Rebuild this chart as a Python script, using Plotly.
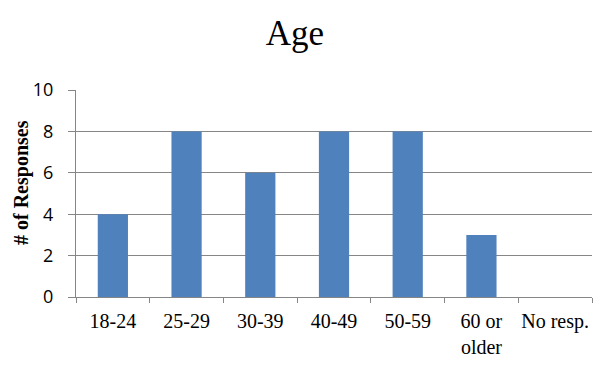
import plotly.graph_objects as go

categories = ["18-24", "25-29", "30-39", "40-49", "50-59", "60 or<br>older", "No resp."]
values = [4, 8, 6, 8, 8, 3, 0]
y_ticks = [0, 2, 4, 6, 8, 10]

# page body has an 8px margin; figure sized/positioned to compensate
OFF = 8
W, H = 598, 352
# plot area in screen pixels
PX0, PX1, PY0, PY1 = 76, 592, 90, 297
L, T = PX0 - OFF, PY0 - OFF
R, B = W - (PX1 - OFF), H - (PY1 - OFF)
pw, ph = PX1 - PX0, PY1 - PY0

fig = go.Figure()
fig.add_trace(go.Bar(
    x=categories, y=values, marker_color="#4F81BD", width=0.41,
    marker_line_width=0,
))
# carrier for the overlay axis that draws the short visible tick marks
fig.add_trace(go.Scatter(x=categories, y=values, yaxis="y2", mode="none",
                         showlegend=False, hoverinfo="skip"))

fig.update_layout(
    width=W, height=H,
    margin=dict(l=L, r=R, t=T, b=B, autoexpand=False),
    paper_bgcolor="white", plot_bgcolor="white",
    title=dict(text="Age", x=(295 - OFF) / W, xanchor="center", xref="container",
               y=1 - (33 - OFF) / H, yref="container", yanchor="middle",
               font=dict(family="Liberation Serif", size=35, color="black")),
    showlegend=False,
    annotations=[dict(
        text="<b># of Responses</b>", textangle=-90, showarrow=False,
        xref="paper", yref="paper",
        x=(21 - PX0) / pw, y=(PY1 - 183) / ph, xanchor="center", yanchor="middle",
        font=dict(family="Liberation Serif", size=20, color="black"),
    )],
    yaxis2=dict(
        overlaying="y", side="left", range=[0, 10], tickvals=y_ticks,
        ticks="outside", ticklen=7, tickcolor="#868686", showticklabels=False,
        showgrid=False, showline=False, zeroline=False, automargin=False,
    ),
)
fig.update_xaxes(
    type="category", showline=True, linecolor="#868686", linewidth=1,
    ticks="outside", tickson="boundaries", ticklen=5, tickcolor="#868686",
    tickfont=dict(family="Liberation Serif", size=20, color="black"),
    ticklabelstandoff=6,
    tickangle=0, showgrid=False, range=[-0.5, 6.5], automargin=False,
)
fig.update_layout(yaxis=dict(
    range=[0, 10], tickvals=y_ticks, showline=True, linecolor="#868686", linewidth=1,
    ticks="outside", ticklen=18, tickcolor="rgba(0,0,0,0)",
    showgrid=True, gridcolor="#868686", gridwidth=1, zeroline=False,
    tickfont=dict(family="Open Sans", size=18, color="black"),
    automargin=False,
))

fig.write_html("out.html")
